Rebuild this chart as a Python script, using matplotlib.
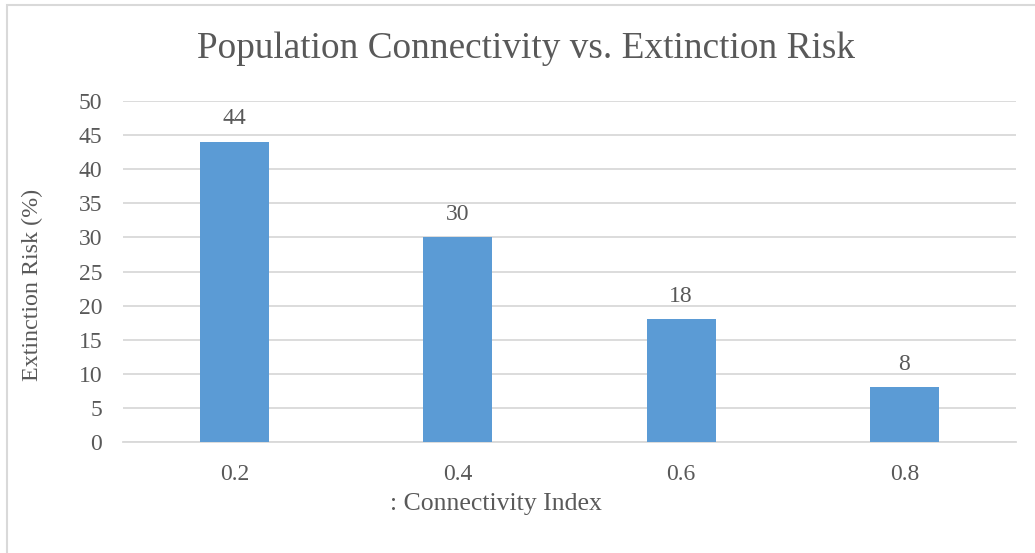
import matplotlib
matplotlib.use("Agg")
import matplotlib.pyplot as plt
from matplotlib.patches import Rectangle

plt.rcParams["font.family"] = ["Liberation Serif", "DejaVu Serif"]

# data
categories = ["0.2", "0.4", "0.6", "0.8"]
risk = [44, 30, 18, 8]
yticks = [0, 5, 10, 15, 20, 25, 30, 35, 40, 45, 50]

text_color = "#595959"
bar_color = "#5B9BD5"
grid_color = "#D9D9D9"

W, H = 1035, 553
fig = plt.figure(figsize=(W / 100, H / 100), dpi=100)

# chart outline (left/top edges visible, rest runs off the image)
fig.patches.append(Rectangle((7 / W, -0.1), 1.2, 1 - 5 / H + 0.1,
                             transform=fig.transFigure, fill=False,
                             edgecolor=grid_color, lw=1.5))

ax = fig.add_axes([123 / W, 1 - 442 / H, (1016 - 123) / W, (442 - 101) / H])
x = range(len(categories))
bars = ax.bar(x, risk, width=0.31, color=bar_color, zorder=3)

ax.set_xlim(-0.5, len(categories) - 0.5)
ax.set_ylim(0, 50)
ax.set_yticks(yticks)
ax.set_xticks(list(x))
ax.set_xticklabels(categories)
ax.yaxis.grid(True, color=grid_color, lw=1.3, zorder=0)
ax.set_axisbelow(True)
for s in ["top", "right", "left"]:
    ax.spines[s].set_visible(False)
ax.spines["bottom"].set_color(grid_color)
ax.spines["bottom"].set_linewidth(1.3)
ax.tick_params(length=0, labelsize=17, colors=text_color)
ax.tick_params(axis="y", pad=15)
ax.tick_params(axis="x", pad=16)

for b, v in zip(bars, risk):
    ax.annotate(str(v), (b.get_x() + b.get_width() / 2, v),
                xytext=(0, 9), textcoords="offset points",
                ha="center", va="bottom", fontsize=17, color=text_color)

fig.text(526 / W, 1 - 49 / H, "Population Connectivity vs. Extinction Risk",
         ha="center", va="center", fontsize=26.8, color=text_color)
fig.text(496 / W, 1 - 504 / H, ": Connectivity Index",
         ha="center", va="center", fontsize=18.5, color=text_color)
fig.text(32 / W, 1 - 285 / H, "Extinction Risk (%)", rotation=90,
         ha="center", va="center", fontsize=17.3, color=text_color)

fig.savefig("out.png", dpi=100)
